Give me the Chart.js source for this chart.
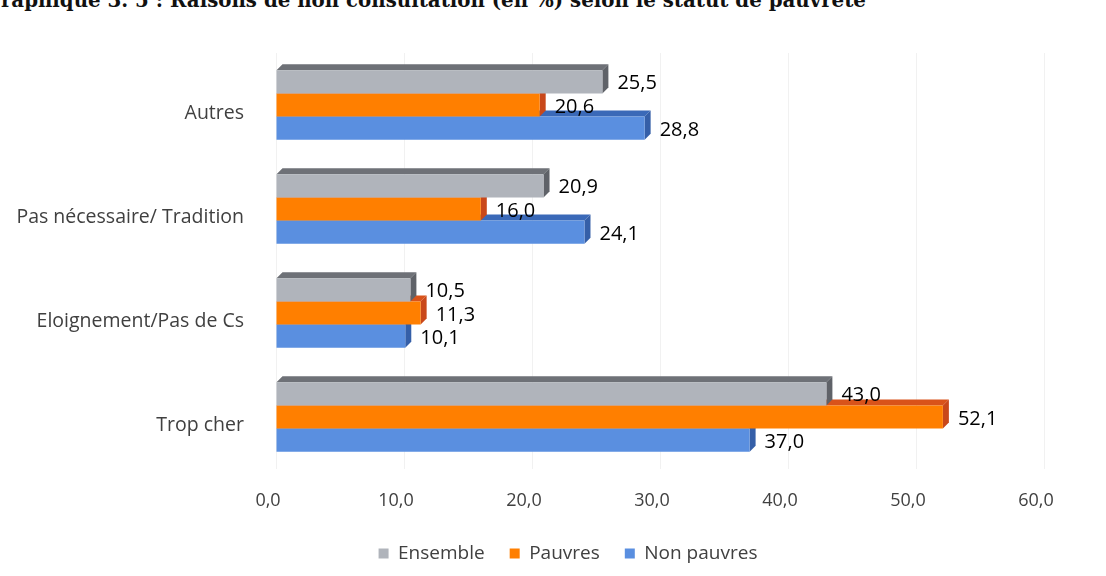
<!DOCTYPE html>
<html lang="fr">
<head>
<meta charset="utf-8">
<title>Raisons de non consultation selon le statut de pauvreté</title>
<script src="https://cdn.jsdelivr.net/npm/chart.js@4.4.1/dist/chart.umd.min.js"></script>
<style>
    html, body { margin: 0; padding: 0; background: #fff; overflow: hidden; }
    .titre {
        position: absolute; left: -16px; top: -11px;
        font-family: "DejaVu Serif", "Liberation Serif", serif;
        font-weight: bold; font-size: 19.8px; line-height: 22px;
        color: #111; white-space: nowrap;
    }
    .zone { position: absolute; left: 0; top: 0; width: 1106px; height: 576px; }
</style>
</head>
<body>
<div class="titre">Graphique 3. 5 : Raisons de non consultation (en %) selon le statut de pauvreté</div>
<div class="zone"><canvas id="graphique"></canvas></div>
<script>
// données
const categories = ['Autres', 'Pas nécessaire/ Tradition', 'Eloignement/Pas de Cs', 'Trop cher'];
const ensemble = [25.5, 20.9, 10.5, 43.0];
const pauvres = [20.6, 16.0, 11.3, 52.1];
const nonPauvres = [28.8, 24.1, 10.1, 37.0];
const ticksX = [0, 10, 20, 30, 40, 50, 60];

const profondeur = 6;
const decalageLegende = 46;

function formatFr(v) {
    return v.toFixed(1).replace('.', ',');
}

// faces du relief (dessus + côté) avant chaque série
const relief3d = {
    id: 'relief3d',
    beforeDatasetDraw(chart, args) {
        const ctx = chart.ctx;
        const ds = chart.data.datasets[args.index];
        args.meta.data.forEach(function(bar) {
            const p = bar.getProps(['x', 'y', 'base', 'height'], true);
            const haut = p.y - p.height / 2;
            const bas = p.y + p.height / 2;
            ctx.save();
            ctx.fillStyle = ds.couleurDessus;
            ctx.beginPath();
            ctx.moveTo(p.base, haut);
            ctx.lineTo(p.base + profondeur, haut - profondeur);
            ctx.lineTo(p.x + profondeur, haut - profondeur);
            ctx.lineTo(p.x, haut);
            ctx.closePath();
            ctx.fill();
            ctx.fillStyle = ds.couleurCote;
            ctx.beginPath();
            ctx.moveTo(p.x, haut);
            ctx.lineTo(p.x + profondeur, haut - profondeur);
            ctx.lineTo(p.x + profondeur, bas - profondeur);
            ctx.lineTo(p.x, bas);
            ctx.closePath();
            ctx.fill();
            ctx.restore();
        });
    }
};

// étiquettes de valeurs
const etiquettes = {
    id: 'etiquettes',
    afterDatasetsDraw(chart) {
        const ctx = chart.ctx;
        ctx.save();
        ctx.font = '20px "Open Sans", sans-serif';
        ctx.fillStyle = '#000';
        ctx.textAlign = 'left';
        ctx.textBaseline = 'middle';
        chart.data.datasets.forEach(function(ds, i) {
            chart.getDatasetMeta(i).data.forEach(function(bar, j) {
                ctx.fillText(formatFr(ds.data[j]), bar.x + profondeur + 9, bar.y + 2);
            });
        });
        ctx.restore();
    }
};

// légende recentrée sous le graphique
const legendeCentree = {
    id: 'legendeCentree',
    afterLayout(chart) {
        if (chart.legend) {
            chart.legend.left += decalageLegende;
            chart.legend.right += decalageLegende;
        }
    }
};

const ctx = document.getElementById('graphique');
new Chart(ctx.getContext('2d'), {
    type: 'bar',
    data: {
        labels: categories,
        datasets: [{
            label: 'Ensemble',
            data: ensemble,
            backgroundColor: '#b0b4bb',
            couleurDessus: '#6e7177',
            couleurCote: '#5f6268'
        }, {
            label: 'Pauvres',
            data: pauvres,
            backgroundColor: '#ff7f00',
            couleurDessus: '#d9531a',
            couleurCote: '#c9481a'
        }, {
            label: 'Non pauvres',
            data: nonPauvres,
            backgroundColor: '#5a8fe0',
            couleurDessus: '#3a69b8',
            couleurCote: '#355fa8'
        }]
    },
    options: {
        indexAxis: 'y',
        responsive: true,
        maintainAspectRatio: false,
        animation: false,
        categoryPercentage: 0.67,
        barPercentage: 1.0,
        layout: { padding: { top: 53, right: 62, bottom: 3, left: 0 } },
        datasets: { bar: { borderWidth: 0 } },
        scales: {
            x: {
                min: 0,
                max: 60,
                afterBuildTicks: function(scale) {
                    scale.ticks = ticksX.map(v => ({ value: v }));
                },
                afterFit: function(scale) { scale.height = 50; },
                grid: { color: '#f1f1f1', drawTicks: false },
                border: { display: false },
                ticks: {
                    padding: 21,
                    labelOffset: -8,
                    color: '#404040',
                    font: { family: '"Open Sans", sans-serif', size: 18 },
                    callback: v => formatFr(v)
                }
            },
            y: {
                afterFit: function(scale) { scale.width = 276; },
                grid: { display: false, drawTicks: false },
                border: { display: false },
                ticks: {
                    padding: 32,
                    labelOffset: 8,
                    color: '#404040',
                    font: { family: '"Open Sans", sans-serif', size: 19.5 }
                }
            }
        },
        plugins: {
            legend: {
                position: 'bottom',
                labels: {
                    boxWidth: 10,
                    boxHeight: 10,
                    padding: 25,
                    color: '#404040',
                    font: { family: '"Open Sans", sans-serif', size: 19 }
                }
            },
            tooltip: { enabled: false }
        }
    },
    plugins: [relief3d, etiquettes, legendeCentree]
});
</script>
</body>
</html>
